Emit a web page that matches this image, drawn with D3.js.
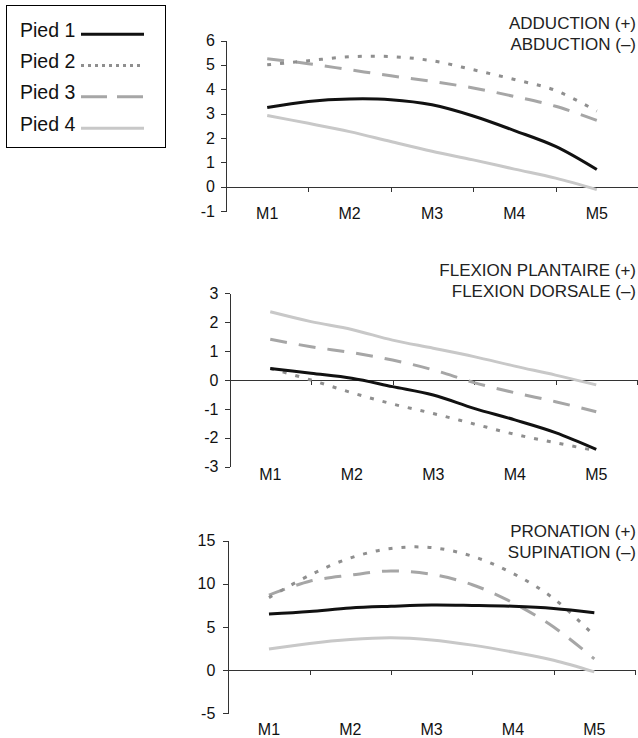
<!DOCTYPE html>
<html>
<head>
<meta charset="utf-8">
<script src="https://cdn.jsdelivr.net/npm/d3@7"></script>
<style>
body { margin: 0; background: #fff; }
svg { display: block; font-family: "Liberation Sans", Arial, sans-serif; }
.axis path, .axis line { stroke: #333; stroke-width: 1; shape-rendering: crispEdges; }
.axis text { font-size: 16px; fill: #111; }
</style>
</head>
<body>
<svg id="chart" width="638" height="738"></svg>
<script>
// categories and sample positions along the M1..M5 axis
const categories = ["M1", "M2", "M3", "M4", "M5"];
const steps = [1, 1.5, 2, 2.5, 3, 3.5, 4, 4.5, 5];
const legendLabels = ["Pied 1", "Pied 2", "Pied 3", "Pied 4"];

// adduction / abduction
const add1 = [3.25, 3.5, 3.6, 3.57, 3.36, 2.9, 2.3, 1.65, 0.7];
const add2 = [5.0, 5.17, 5.33, 5.34, 5.17, 4.8, 4.4, 3.95, 3.1];
const add3 = [5.25, 5.05, 4.8, 4.55, 4.32, 4.05, 3.7, 3.3, 2.72];
const add4 = [2.92, 2.6, 2.26, 1.85, 1.45, 1.1, 0.72, 0.35, -0.12];

// flexion plantaire / dorsale
const flex1 = [0.4, 0.23, 0.06, -0.23, -0.52, -0.98, -1.38, -1.82, -2.4];
const flex2 = [0.4, 0.0, -0.44, -0.83, -1.16, -1.52, -1.88, -2.17, -2.45];
const flex3 = [1.41, 1.15, 0.95, 0.69, 0.35, -0.09, -0.44, -0.75, -1.1];
const flex4 = [2.36, 2.02, 1.75, 1.38, 1.1, 0.81, 0.48, 0.17, -0.17];

// pronation / supination
const pron1 = [6.5, 6.8, 7.2, 7.4, 7.55, 7.5, 7.4, 7.15, 6.65];
const pron2 = [8.4, 11.0, 13.0, 14.1, 14.2, 13.2, 11.2, 8.3, 4.0];
const pron3 = [8.7, 10.3, 11.0, 11.5, 11.1, 9.9, 7.8, 5.0, 1.3];
const pron4 = [2.45, 3.1, 3.55, 3.75, 3.5, 2.9, 2.1, 1.15, -0.2];

const seriesStyle = [
	{color: "#111", width: 3, dash: null, legendDash: null},
	{color: "#8f8f8f", width: 3, dash: "4,9", legendDash: "3,4"},
	{color: "#a6a6a6", width: 3, dash: "17,12", legendDash: "26,10"},
	{color: "#c8c8c8", width: 3, dash: null, legendDash: null}
];

const panels = [
	{title: ["ADDUCTION (+)", "ABDUCTION (\u2013)"], series: [add1, add2, add3, add4],
		domain: [-1, 6], ticks: [-1, 0, 1, 2, 3, 4, 5, 6],
		left: 226, right: 638, top: 40.5, bottom: 211, labelY: 219, titleY: [29, 50], pad: 6},
	{title: ["FLEXION PLANTAIRE (+)", "FLEXION DORSALE (\u2013)"], series: [flex1, flex2, flex3, flex4],
		domain: [-3, 3], ticks: [-3, -2, -1, 0, 1, 2, 3],
		left: 229.5, right: 637, top: 293.3, bottom: 466.7, labelY: 480, titleY: [276, 297], pad: 6},
	{title: ["PRONATION (+)", "SUPINATION (\u2013)"], series: [pron1, pron2, pron3, pron4],
		domain: [-5, 15], ticks: [-5, 0, 5, 10, 15],
		left: 228.3, right: 635, top: 540.7, bottom: 713.3, labelY: 735, titleY: [536.7, 557.7], pad: 8}
];

let svg = d3.select("#chart");

panels.forEach(function(p){
	let g = svg.append("g");

	let scaleY = d3.scaleLinear().domain(p.domain).range([p.bottom, p.top]);
	let scaleBand = d3.scaleBand().domain(categories).range([p.left, p.right]);
	let bw = scaleBand.bandwidth();
	let scaleX = d3.scaleLinear()
		.domain([1, categories.length])
		.range([scaleBand(categories[0]) + bw/2, scaleBand(categories[categories.length-1]) + bw/2]);
	let scaleEdge = d3.scaleLinear().domain([0, categories.length]).range([p.left, p.right]);

	// y axis (plain hyphen for negatives, like the original)
	g.append("g").attr("class", "axis")
		.attr("transform", "translate(" + p.left + ",0)")
		.call(d3.axisLeft(scaleY).tickValues(p.ticks).tickSize(5).tickSizeOuter(0).tickPadding(p.pad).tickFormat(d => String(d)));

	// zero line with category boundary ticks
	g.append("g").attr("class", "axis")
		.attr("transform", "translate(0," + scaleY(0) + ")")
		.call(d3.axisBottom(scaleEdge).tickValues(d3.range(1, categories.length + 1)).tickSize(5).tickSizeOuter(0).tickFormat(""));

	// category labels at the bottom
	g.selectAll("text.cat")
		.data(categories)
		.join("text")
		.attr("class", "cat")
		.attr("x", d => scaleBand(d) + bw/2)
		.attr("y", p.labelY)
		.attr("text-anchor", "middle")
		.attr("font-size", 16)
		.attr("fill", "#111")
		.text(d => d);

	// title
	g.selectAll("text.title")
		.data(p.title)
		.join("text")
		.attr("class", "title")
		.attr("x", 636)
		.attr("y", (d, i) => p.titleY[i])
		.attr("text-anchor", "end")
		.attr("font-size", 17)
		.attr("fill", "#222")
		.text(d => d);

	let line = d3.line()
		.x((d, i) => scaleX(steps[i]))
		.y(d => scaleY(d))
		.curve(d3.curveCatmullRom);

	// draw lighter series first so black is on top
	[3, 2, 1, 0].forEach(function(k){
		let s = seriesStyle[k];
		g.append("path")
			.datum(p.series[k])
			.attr("d", line)
			.attr("fill", "none")
			.attr("stroke", s.color)
			.attr("stroke-width", s.width)
			.attr("stroke-dasharray", s.dash);
	});
});

// legend
let legend = svg.append("g");
legend.append("rect")
	.attr("x", 6.5).attr("y", 5.5)
	.attr("width", 159).attr("height", 142)
	.attr("fill", "#fff").attr("stroke", "#000");

let legendY = d3.scalePoint().domain(legendLabels).range([36.7, 130.7]);

legend.selectAll("text.leg")
	.data(legendLabels)
	.join("text")
	.attr("class", "leg")
	.attr("x", 20)
	.attr("y", d => legendY(d))
	.attr("font-size", 19.5)
	.attr("fill", "#111")
	.text(d => d);

legend.selectAll("line.leg")
	.data(legendLabels)
	.join("line")
	.attr("class", "leg")
	.attr("x1", 81).attr("x2", 144)
	.attr("y1", d => legendY(d) - 2.5)
	.attr("y2", d => legendY(d) - 2.5)
	.attr("stroke", (d, i) => seriesStyle[i].color)
	.attr("stroke-width", 3)
	.attr("stroke-dasharray", (d, i) => seriesStyle[i].legendDash);
</script>
</body>
</html>
